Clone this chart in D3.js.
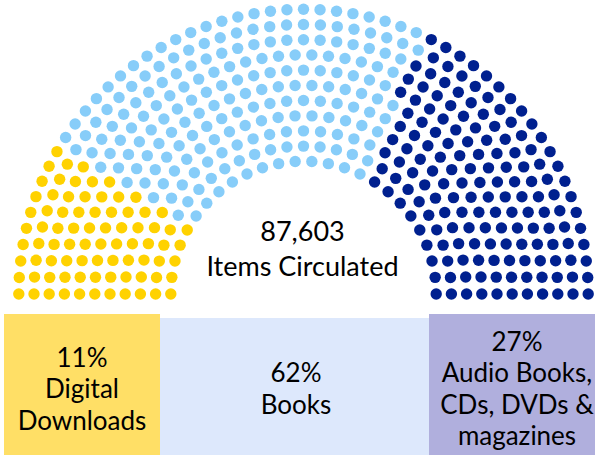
<!DOCTYPE html>
<html lang="en">
<head>
  <meta charset="UTF-8" />
  <title>Items Circulated</title>
  <script src="https://cdn.jsdelivr.net/npm/d3@7"></script>
  <style>
    body { margin: 0; background: #fff; }
    svg { display: block; }
    text { font-family: Lato, "Noto Sans", sans-serif; fill: #000; }
  </style>
</head>
<body>
<script>
  // data
  const categories = ["Digital Downloads", "Books", "Audio Books, CDs, DVDs & magazines"];
  const dotCounts = [80, 203, 158];
  const dotColors = ["#ffd200", "#87cdf9", "#00208f"];
  const boxColors = ["#ffdf66", "#dde8fc", "#b0afdd"];
  const boxLines = [
    ["11%", "Digital", "Downloads"],
    ["62%", "Books"],
    ["27%", "Audio Books,", "CDs, DVDs &", "magazines"]
  ];
  const totalLabel = ["87,603", "Items Circulated"];

  const width = 595, height = 455;
  const cx = 303.5, cy = 294;
  const rings = 11, innerR = 132.7, outerR = 284.7, dotR = 5.7, spacing = 16.8;
  // box edges (left of each box, then right end)
  const boxEdges = [4, 160, 429, 605];
  const boxTops = [314, 318, 314];

  const svg = d3.select("body").append("svg")
    .attr("width", width)
    .attr("height", height);

  const rScale = d3.scaleLinear().domain([0, rings - 1]).range([innerR, outerR]);

  // dots per ring, proportional to ring length
  const total = d3.sum(dotCounts);
  const perRing = d3.range(rings).map(k => Math.round(Math.PI * rScale(k) / spacing) + 1);
  perRing[rings - 1] += total - d3.sum(perRing);

  let slots = [];
  perRing.forEach((n, k) => {
    const aScale = d3.scaleLinear().domain([0, n - 1]).range([Math.PI, 0]);
    d3.range(n).forEach(i => slots.push({ ring: k, angle: aScale(i) }));
  });
  slots.sort((a, b) => b.angle - a.angle || a.ring - b.ring);

  // assign categories in order of angle
  const bounds = d3.cumsum(dotCounts);
  slots.forEach((s, i) => { s.cat = d3.bisectRight(bounds, i); });

  svg.append("g").selectAll("circle")
    .data(slots)
    .join("circle")
    .attr("cx", d => cx + rScale(d.ring) * Math.cos(d.angle))
    .attr("cy", d => cy - rScale(d.ring) * Math.sin(d.angle))
    .attr("r", dotR)
    .attr("fill", d => dotColors[d.cat]);

  // centre label
  svg.append("text")
    .attr("x", 302.5).attr("y", 241)
    .attr("text-anchor", "middle")
    .attr("font-size", 27)
    .text(totalLabel[0]);
  svg.append("text")
    .attr("x", 302.5).attr("y", 276)
    .attr("text-anchor", "middle")
    .attr("font-size", 27)
    .text(totalLabel[1]);

  // boxes
  const boxes = svg.append("g").selectAll("g")
    .data(categories)
    .join("g");

  boxes.append("rect")
    .attr("x", (d, i) => boxEdges[i])
    .attr("y", (d, i) => boxTops[i])
    .attr("width", (d, i) => boxEdges[i + 1] - boxEdges[i])
    .attr("height", (d, i) => height - boxTops[i])
    .attr("fill", (d, i) => boxColors[i]);

  const lineH = 31.5;
  const textX = [82, 296, 517];
  boxes.append("text")
    .attr("text-anchor", "middle")
    .attr("font-size", 26)
    .each(function (d, i) {
      const lines = boxLines[i];
      const mid = 389;
      const y0 = mid + 9 - (lines.length - 1) / 2 * lineH;
      d3.select(this).selectAll("tspan")
        .data(lines)
        .join("tspan")
        .attr("x", textX[i])
        .attr("y", (l, j) => y0 + j * lineH)
        .text(l => l);
    });
</script>
</body>
</html>
